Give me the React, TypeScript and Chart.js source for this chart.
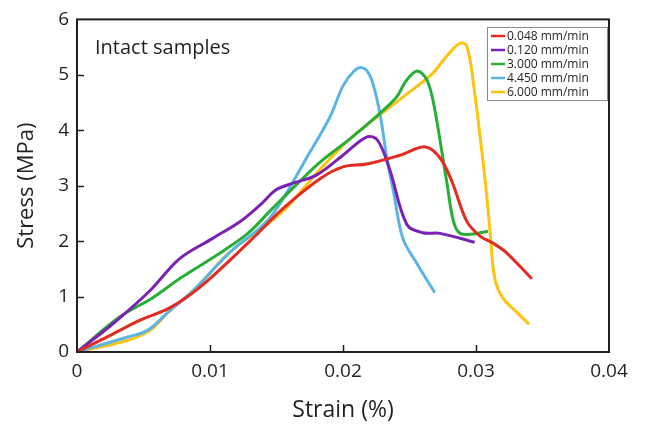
import React, { useEffect, useRef } from "react";
import { Chart, registerables } from "chart.js";

Chart.register(...registerables);

const seriesLabels = ["0.048 mm/min", "0.120 mm/min", "3.000 mm/min", "4.450 mm/min", "6.000 mm/min"];
const seriesColors = ["#e32b20", "#7b22b4", "#27ae36", "#5bb4e3", "#ffc20e"];

const redX = [0, 0.0025, 0.0047, 0.007, 0.0092, 0.013, 0.0155, 0.0183, 0.020, 0.0218, 0.0243, 0.0262, 0.0273, 0.0282, 0.0293, 0.0303, 0.0313, 0.0323, 0.0342];
const redY = [0, 0.3, 0.57, 0.80, 1.16, 2.0, 2.59, 3.13, 3.34, 3.39, 3.55, 3.70, 3.50, 3.07, 2.36, 2.09, 1.96, 1.79, 1.32];

const purpleX = [0, 0.0027, 0.0055, 0.0077, 0.0102, 0.0123, 0.0138, 0.015, 0.0163, 0.018, 0.020, 0.0218, 0.0226, 0.0235, 0.0248, 0.026, 0.0273, 0.0299];
const purpleY = [0, 0.51, 1.11, 1.68, 2.05, 2.36, 2.66, 2.93, 3.05, 3.19, 3.55, 3.88, 3.82, 3.30, 2.30, 2.15, 2.14, 1.98];

const greenX = [0, 0.0032, 0.0057, 0.0077, 0.0102, 0.0128, 0.0147, 0.0165, 0.0183, 0.0205, 0.0226, 0.024, 0.0248, 0.0256, 0.0263, 0.0268, 0.0278, 0.0283, 0.0288, 0.0298, 0.0309];
const greenY = [0, 0.63, 0.98, 1.32, 1.70, 2.13, 2.59, 3.02, 3.43, 3.84, 4.27, 4.59, 4.91, 5.07, 4.91, 4.50, 3.07, 2.36, 2.14, 2.13, 2.18];

const cyanX = [0, 0.0038, 0.0053, 0.007, 0.0088, 0.0115, 0.0145, 0.0175, 0.019, 0.020, 0.0208, 0.0214, 0.0219, 0.0223, 0.0228, 0.0233, 0.0238, 0.0245, 0.0256, 0.0269];
const cyanY = [0, 0.27, 0.39, 0.75, 1.12, 1.80, 2.42, 3.60, 4.23, 4.80, 5.06, 5.13, 5.04, 4.80, 4.27, 3.50, 2.89, 2.05, 1.58, 1.07];

const yellowX = [0, 0.0038, 0.0055, 0.007, 0.0088, 0.0115, 0.0153, 0.0183, 0.0205, 0.023, 0.0256, 0.0268, 0.0278, 0.0288, 0.0293, 0.0298, 0.0307, 0.0311, 0.0314, 0.032, 0.0331, 0.034];
const yellowY = [0, 0.21, 0.39, 0.75, 1.12, 1.80, 2.50, 3.30, 3.84, 4.32, 4.80, 5.04, 5.34, 5.57, 5.52, 4.86, 3.07, 2.05, 1.34, 0.98, 0.71, 0.50];

const xTicks = [0, 0.01, 0.02, 0.03, 0.04];
const yTicks = [0, 1, 2, 3, 4, 5, 6];
const annotationText = "Intact samples";
const xTitle = "Strain (%)";
const yTitle = "Stress (MPa)";

const FONT = "'Open Sans', 'Noto Sans', sans-serif";

const pts = (xs: number[], ys: number[]) => xs.map((x, i) => ({ x, y: ys[i] }));

const frame = {
  id: "frame",
  afterDatasetsDraw(chart: any) {
    const { ctx, chartArea: a, scales } = chart;
    ctx.save();
    ctx.strokeStyle = "#231f20";
    ctx.lineWidth = 2;
    ctx.strokeRect(a.left, a.top, a.right - a.left, a.bottom - a.top);
    ctx.lineWidth = 1.5;
    ctx.beginPath();
    xTicks.forEach((v) => {
      const px = Math.round(scales.x.getPixelForValue(v)) + 0.5;
      if (v > 0 && v < 0.04) {
        ctx.moveTo(px, a.bottom);
        ctx.lineTo(px, a.bottom - 7);
      }
    });
    yTicks.forEach((v) => {
      const py = Math.round(scales.y.getPixelForValue(v)) + 0.5;
      if (v > 0 && v < 6) {
        ctx.moveTo(a.left, py);
        ctx.lineTo(a.left + 7, py);
      }
    });
    ctx.stroke();

    ctx.fillStyle = "#231f20";
    ctx.font = `20px ${FONT}`;
    ctx.textBaseline = "middle";
    ctx.textAlign = "left";
    ctx.fillText(annotationText, a.left + 18, a.top + 29);

    // legend
    const lx = 487, ly = 27, lw = 120, lh = 73;
    ctx.fillStyle = "#fff";
    ctx.fillRect(lx, ly, lw, lh);
    ctx.strokeStyle = "#8a8a8a";
    ctx.lineWidth = 1;
    ctx.strokeRect(lx + 0.5, ly + 0.5, lw, lh);
    ctx.font = `12px ${FONT}`;
    chart.data.datasets.forEach((ds: any, i: number) => {
      const yy = ly + 9 + i * 14;
      ctx.strokeStyle = ds.borderColor;
      ctx.lineWidth = 2.5;
      ctx.beginPath();
      ctx.moveTo(lx + 4, yy);
      ctx.lineTo(lx + 18, yy);
      ctx.stroke();
      ctx.fillStyle = "#231f20";
      ctx.fillText(ds.label, lx + 20, yy + 0.5);
    });
    ctx.restore();
  },
};

export default function App() {
  const ref = useRef<HTMLCanvasElement>(null);
  useEffect(() => {
    document.body.style.margin = "0";
    const datasets = [
      pts(redX, redY),
      pts(purpleX, purpleY),
      pts(greenX, greenY),
      pts(cyanX, cyanY),
      pts(yellowX, yellowY),
    ].map((d, i) => ({
      label: seriesLabels[i],
      data: d,
      borderColor: seriesColors[i],
      backgroundColor: seriesColors[i],
      borderWidth: 3,
      pointRadius: 0,
      tension: 0.35,
      fill: false,
    }));
    const chart = new Chart(ref.current!, {
      type: "line",
      data: { datasets },
      plugins: [frame],
      options: {
        animation: false,
        responsive: false,
        layout: { padding: { top: 16, right: 41, left: 0, bottom: 0 } },
        plugins: { legend: { display: false }, tooltip: { enabled: false } },
        scales: {
          x: {
            type: "linear",
            min: 0,
            max: 0.04,
            afterFit: (s: any) => { s.height = 76; },
            afterBuildTicks: (s: any) => { s.ticks = xTicks.map((v) => ({ value: v })); },
            grid: { display: false, drawTicks: false },
            border: { display: false },
            ticks: {
              color: "#231f20",
              font: { family: FONT, size: 19 },
              padding: 8,
              maxRotation: 0,
              callback: (v: any) => String(v),
            },
            title: { display: true, text: xTitle, color: "#231f20", font: { family: FONT, size: 23 }, padding: { top: 0, bottom: 4 } },
          },
          y: {
            type: "linear",
            min: 0,
            max: 6,
            afterFit: (s: any) => { s.width = 77; },
            afterBuildTicks: (s: any) => { s.ticks = yTicks.map((v) => ({ value: v })); },
            grid: { display: false, drawTicks: false },
            border: { display: false },
            ticks: {
              color: "#231f20",
              font: { family: FONT, size: 19 },
              padding: 8,
              callback: (v: any) => String(v),
            },
            title: { display: true, text: yTitle, color: "#231f20", font: { family: FONT, size: 22 }, padding: { top: 14, bottom: 0 } },
          },
        },
      },
    });
    return () => chart.destroy();
  }, []);
  return <canvas ref={ref} width={650} height={428} style={{ display: "block" }} />;
}
